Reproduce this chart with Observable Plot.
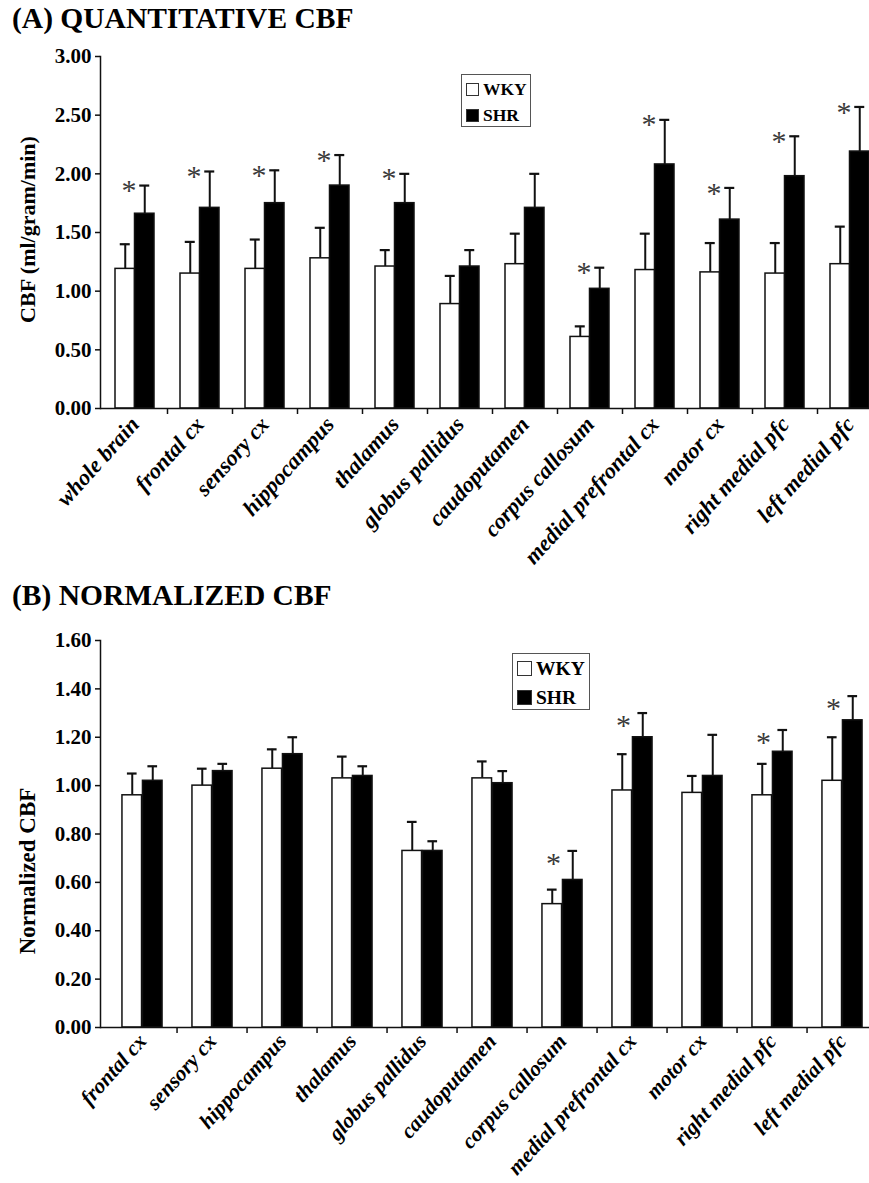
<!DOCTYPE html>
<html>
<head>
<meta charset="utf-8">
<script src="https://cdn.jsdelivr.net/npm/d3@7"></script>
<script src="https://cdn.jsdelivr.net/npm/@observablehq/plot@0.6"></script>
<style>
  body { margin: 0; background: #fff; }
  #wrap { position: relative; width: 869px; height: 1183px; overflow: hidden; font-family: "Liberation Serif", "Times New Roman", serif; }
  .title { position: absolute; left: 12px; font-weight: bold; font-size: 29.5px; line-height: normal; white-space: nowrap; color: #000; }
  .chart { position: absolute; left: 0; }
  .legend { position: absolute; border: 1.5px solid #555; box-sizing: border-box; background: #fff; }
  .legend .row { position: absolute; display: flex; align-items: center; font-weight: bold; white-space: nowrap; }
  .legend .sw { box-sizing: border-box; border: 1.5px solid #333; margin-right: 4px; }
</style>
</head>
<body>
<div id="wrap"></div>
<script>
// ---------- data ----------
const series = ["WKY", "SHR"];

const categoriesA = ["whole brain", "frontal cx", "sensory cx", "hippocampus", "thalamus", "globus pallidus",
  "caudoputamen", "corpus callosum", "medial prefrontal cx", "motor cx", "right medial pfc", "left medial pfc"];
const wkyA    = [1.19, 1.15, 1.19, 1.28, 1.21, 0.89, 1.23, 0.61, 1.18, 1.16, 1.15, 1.23];
const wkyErrA = [0.21, 0.27, 0.25, 0.26, 0.14, 0.24, 0.26, 0.09, 0.31, 0.25, 0.26, 0.32];
const shrA    = [1.66, 1.71, 1.75, 1.90, 1.75, 1.21, 1.71, 1.02, 2.08, 1.61, 1.98, 2.19];
const shrErrA = [0.24, 0.31, 0.28, 0.26, 0.25, 0.14, 0.29, 0.18, 0.38, 0.27, 0.34, 0.38];
const sigA    = [1, 1, 1, 1, 1, 0, 0, 1, 1, 1, 1, 1];
const yTicksA = [0, 0.5, 1.0, 1.5, 2.0, 2.5, 3.0];

const categoriesB = ["frontal cx", "sensory cx", "hippocampus", "thalamus", "globus pallidus", "caudoputamen",
  "corpus callosum", "medial prefrontal cx", "motor cx", "right medial pfc", "left medial pfc"];
const wkyB    = [0.96, 1.00, 1.07, 1.03, 0.73, 1.03, 0.51, 0.98, 0.97, 0.96, 1.02];
const wkyErrB = [0.09, 0.07, 0.08, 0.09, 0.12, 0.07, 0.06, 0.15, 0.07, 0.13, 0.18];
const shrB    = [1.02, 1.06, 1.13, 1.04, 0.73, 1.01, 0.61, 1.20, 1.04, 1.14, 1.27];
const shrErrB = [0.06, 0.03, 0.07, 0.04, 0.04, 0.05, 0.12, 0.10, 0.17, 0.09, 0.10];
const sigB    = [0, 0, 0, 0, 0, 0, 1, 1, 0, 1, 1];
const yTicksB = [0, 0.2, 0.4, 0.6, 0.8, 1.0, 1.2, 1.4, 1.6];

// ---------- drawing ----------
const FONT = "'Liberation Serif', 'Times New Roman', serif";

function panel(o) {
  const rows = o.cats.map((c, i) => ({
    cat: c, wky: o.wky[i], wkyTop: o.wky[i] + o.wkyErr[i],
    shr: o.shr[i], shrTop: o.shr[i] + o.shrErr[i], sig: o.sig[i]
  }));
  const bw = (o.xRange[1] - o.xRange[0]) / o.cats.length;
  const h = bw / 2, g = o.halfGroup, off = g / 2, c = o.capHalf;
  return Plot.plot({
    width: 869, height: o.height,
    marginLeft: 100, marginRight: 0, marginTop: o.marginTop, marginBottom: o.marginBottom,
    style: { fontFamily: FONT, background: "transparent", color: "#000", overflow: "visible" },
    x: { domain: o.cats, range: o.xRange, padding: 0 },
    y: { domain: [0, o.yMax] },
    marks: [
      Plot.ruleX(rows, { x: "cat", y1: "wky", y2: "wkyTop", dx: -off, stroke: "#111", strokeWidth: 2 }),
      Plot.ruleX(rows, { x: "cat", y1: "shr", y2: "shrTop", dx: off, stroke: "#111", strokeWidth: 2 }),
      Plot.tickY(rows, { x: "cat", y: "wkyTop", insetLeft: h - off - c, insetRight: h + off - c, stroke: "#111", strokeWidth: 2.2 }),
      Plot.tickY(rows, { x: "cat", y: "shrTop", insetLeft: h + off - c, insetRight: h - off - c, stroke: "#111", strokeWidth: 2.2 }),
      Plot.barY(rows, { x: "cat", y: "wky", fill: "white", stroke: "#111", strokeWidth: 1.5, insetLeft: h - g, insetRight: h }),
      Plot.barY(rows, { x: "cat", y: "shr", fill: "black", stroke: "#111", strokeWidth: 1.5, insetLeft: h, insetRight: h - g }),
      Plot.text(rows.filter(d => d.sig), { x: "cat", y: "shrTop", text: () => "*", dx: o.starDx, dy: o.starDy,
        fontSize: 30, fontWeight: "normal", fill: "#3a3a3a" }),
      Plot.axisY({ ticks: o.yTicks, tickFormat: d3.format(".2f"), tickSize: 5, tickPadding: 4,
        fontSize: 21, fontWeight: "bold", label: null, stroke: "#111", strokeWidth: 1.5 }),
      Plot.axisX({ tickRotate: -48, tickSize: 0, tickPadding: o.xPad, fontSize: o.xFont, fontWeight: "bold",
        fontStyle: "italic", label: null }),
      Plot.ruleX(o.cats.slice(1), { x: d => d, dx: -h, y1: 0, y2: 0, insetBottom: -6, stroke: "#111", strokeWidth: 1.5 }),
      Plot.ruleY([0], { stroke: "#111", strokeWidth: 1.5 }),
      Plot.frame({ anchor: "left", stroke: "#111", strokeWidth: 1.5 }),
      Plot.text([o.yLabel], { frameAnchor: "left", textAnchor: "middle", rotate: -90, dx: -73, dy: o.labelDy,
        fontSize: o.labelSize, fontWeight: "bold" })
    ]
  });
}

const wrap = document.getElementById("wrap");

function addTitle(text, top) {
  const d = document.createElement("div");
  d.className = "title"; d.textContent = text; d.style.top = top + "px";
  wrap.appendChild(d);
}
function addChart(svg, top) {
  svg.classList.add("chart"); svg.style.top = top + "px";
  wrap.appendChild(svg);
}
function addLegend(box, sw, fontSize, rowYs) {
  const L = document.createElement("div");
  L.className = "legend";
  Object.assign(L.style, { left: box[0] + "px", top: box[1] + "px", width: box[2] + "px", height: box[3] + "px" });
  series.forEach((s, i) => {
    const r = document.createElement("div");
    r.className = "row";
    Object.assign(r.style, { left: "4px", top: (rowYs[i] - box[1] - fontSize * 0.6) + "px", fontSize: fontSize + "px", height: (fontSize * 1.2) + "px" });
    const q = document.createElement("div");
    q.className = "sw";
    Object.assign(q.style, { width: sw + "px", height: sw + "px", background: i === 0 ? "#fff" : "#000" });
    const t = document.createElement("span"); t.textContent = s;
    r.appendChild(q); r.appendChild(t);
    L.appendChild(r);
  });
  wrap.appendChild(L);
}

addTitle("(A) QUANTITATIVE CBF", 2);
addChart(panel({
  cats: categoriesA, wky: wkyA, wkyErr: wkyErrA, shr: shrA, shrErr: shrErrA, sig: sigA,
  yMax: 3, yTicks: yTicksA, yLabel: "CBF (ml/gram/min)", labelSize: 22,
  height: 540, marginTop: 16, marginBottom: 172, xRange: [102, 882],
  halfGroup: 19.5, capHalf: 5, starDx: -6, starDy: 5, labelDy: -3, xPad: 12, xFont: 22.5
}), 40);
addLegend([461, 74, 70, 53], 13, 17.5, [88, 114]);

addTitle("(B) NORMALIZED CBF", 579);
addChart(panel({
  cats: categoriesB, wky: wkyB, wkyErr: wkyErrB, shr: shrB, shrErr: shrErrB, sig: sigB,
  yMax: 1.6, yTicks: yTicksB, yLabel: "Normalized CBF", labelSize: 23,
  height: 563, marginTop: 20, marginBottom: 156, xRange: [101.5, 881.5],
  halfGroup: 20.5, capHalf: 5.3, starDx: -9, starDy: 12, labelDy: 37, xPad: 10, xFont: 21.5
}), 620);
addLegend([512, 653, 78, 57], 15, 19.5, [668, 697]);
</script>
</body>
</html>
